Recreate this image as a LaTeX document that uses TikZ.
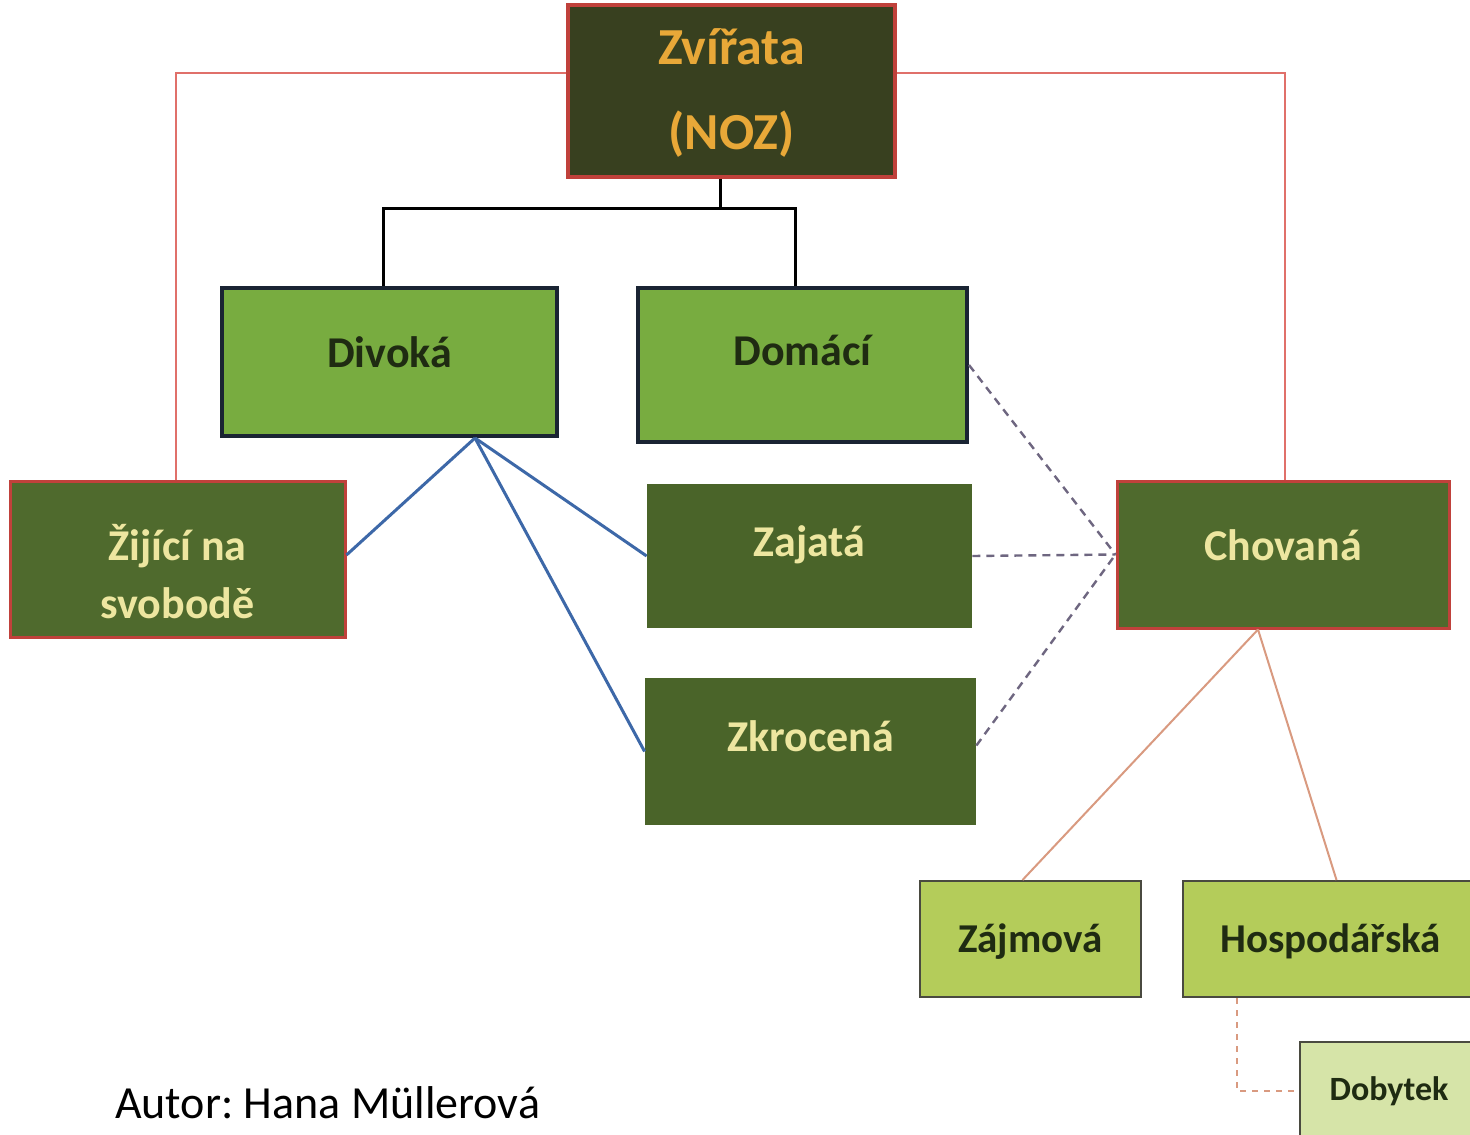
\documentclass[tikz,border=0pt]{standalone}
\usepackage{fontspec}
\setmainfont{Carlito}
\usetikzlibrary{calc}
\frenchspacing

\definecolor{nozfill}{HTML}{38401F}
\definecolor{nozred}{HTML}{C0413B}
\definecolor{nozorange}{HTML}{E8A838}
\definecolor{midgreen}{HTML}{78AC40}
\definecolor{navy}{HTML}{1A2433}
\definecolor{darktext}{HTML}{1F2B12}
\definecolor{olive}{HTML}{4F6A2D}
\definecolor{olivedark}{HTML}{4A6429}
\definecolor{paleyellow}{HTML}{EDE6A0}
\definecolor{lime}{HTML}{B4CC5A}
\definecolor{limeborder}{HTML}{4A4A40}
\definecolor{palelime}{HTML}{D6E4A8}
\definecolor{redline}{HTML}{E0706A}
\definecolor{blueline}{HTML}{3D68A8}
\definecolor{dashline}{HTML}{6E6680}
\definecolor{tanline}{HTML}{D99A80}

\tikzset{
  box/.style={rectangle, font=\bfseries\fontsize{22}{29}\selectfont, align=center, text height=0pt, text depth=0pt},
  rootbox/.style={box, fill=nozfill, draw=nozred, line width=2pt, text=nozorange, font=\bfseries\fontsize{26}{42.5}\selectfont, text height=59pt},
  kindbox/.style={box, fill=midgreen, draw=navy, line width=2pt, text=darktext},
  livebox/.style={box, fill=olive, draw=nozred, line width=1.5pt, text=paleyellow},
  tamebox/.style={box, fill=olivedark, text=paleyellow},
  usebox/.style={box, fill=lime, draw=limeborder, line width=1pt, text=darktext, font=\bfseries\fontsize{20.5}{25}\selectfont, text height=13pt},
  cattlebox/.style={box, fill=palelime, draw=limeborder, line width=1pt, text=darktext, font=\bfseries\fontsize{17}{20}\selectfont, text height=9pt},
  redlink/.style={redline, line width=1pt},
  treelink/.style={black, line width=1.5pt},
  bluelink/.style={blueline, line width=1.5pt},
  dashlink/.style={dashline, line width=1.2pt, dash pattern=on 4pt off 3pt},
  tanlink/.style={tanline, line width=1pt}
}

\begin{document}
\begin{tikzpicture}[x=0.5pt, y=-0.5pt]
\useasboundingbox (0,0) rectangle (1470,1134);
\fill[white] (0,0) rectangle (1470,1134);

% boxes
\node[rootbox, minimum width=163.5pt, minimum height=86pt] (zvirata) at (731.5,91) {Zvířata\\(NOZ)};
\node[kindbox, minimum width=167.5pt, minimum height=74pt, text height=5pt] (divoka) at (389.5,362) {Divoká};
\node[kindbox, minimum width=164.5pt, minimum height=77pt] (domaci) at (802.5,365) {Domácí};
\node[livebox, minimum width=167.5pt, minimum height=78pt, text height=59pt] (zijici) at (177.5,559) {Žijící na\\svobodě};
\node[tamebox, minimum width=162.5pt, minimum height=72pt] (zajata) at (809.5,556) {Zajatá};
\node[tamebox, minimum width=165.5pt, minimum height=73.5pt] (zkrocena) at (810.5,751.5) {Zkrocená};
\node[livebox, minimum width=166pt, minimum height=73.5pt, text height=6pt] (chovana) at (1283,554.5) {Chovaná};
\node[usebox, minimum width=110.5pt, minimum height=58pt] (zajmova) at (1030.5,939) {Zájmová};
\node[usebox, minimum width=147.5pt, minimum height=58pt] (hospodarska) at (1330.5,939) {Hospodářská};
\node[cattlebox, minimum width=89pt, minimum height=49pt] (dobytek) at (1389,1091) {Dobytek};

\node[anchor=base west, font=\fontsize{23}{28}\selectfont] (autor) at (108,1118) {Autor: Hana Müllerová};

% red links from the root
\draw[redlink] (zvirata.west) ++(0,-18) -| ([xshift=-0.75pt]zijici.north);
\draw[redlink] (zvirata.east) ++(0,-18) -| ([xshift=1pt]chovana.north);

% black tree
\draw[treelink] ([xshift=-5.75pt]zvirata.south) -- ++(0,30) coordinate (split);
\draw[treelink] ([xshift=-3.25pt]divoka.north) |- (split) -| ([xshift=-3.75pt]domaci.north);

% blue links
\coordinate (wild) at ([xshift=42.75pt]divoka.south);
\draw[bluelink] (wild) -- ([yshift=2pt]zijici.east);
\draw[bluelink] (wild) -- (zajata.west);
\draw[bluelink] (wild) -- (zkrocena.west);

% dashed links
\coordinate (kept) at (chovana.west);
\draw[dashlink] (domaci.east) -- (kept);
\draw[dashlink] (zajata.east) -- (kept);
\draw[dashlink] ([yshift=3pt]zkrocena.east) -- (kept);

% tan links
\coordinate (bred) at ([xshift=-12.5pt]chovana.south);
\draw[tanlink] (bred) -- ([xshift=-4pt]zajmova.north);
\draw[tanlink] (bred) -- ([xshift=3pt]hospodarska.north);
\draw[tanlink, dashed] ([xshift=-46.75pt]hospodarska.south) |- (dobytek.west);

\end{tikzpicture}
\end{document}
